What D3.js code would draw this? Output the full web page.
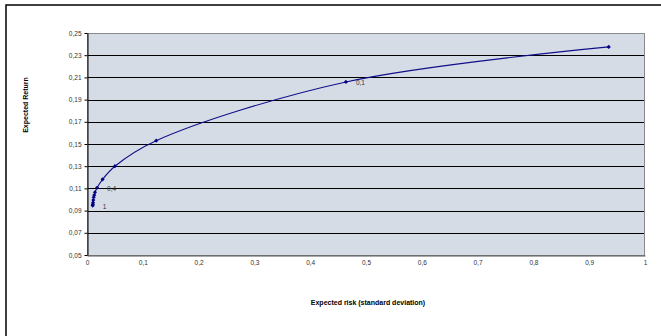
<!DOCTYPE html>
<html><head><meta charset="utf-8">
<script src="https://cdn.jsdelivr.net/npm/d3@7"></script>
<style>body{margin:0;background:#fff}svg{display:block}text{font-family:"Liberation Sans",Arial,sans-serif}</style>
</head><body><svg id="c" width="661" height="336"></svg>
<script>
const riskValues = [0.0102, 0.0104, 0.0108, 0.0113, 0.012, 0.013, 0.0143, 0.018, 0.028, 0.050, 0.124, 0.464, 0.935];
const returnValues = [0.0945, 0.0955, 0.097, 0.0995, 0.102, 0.104, 0.1065, 0.1106, 0.1182, 0.130, 0.153, 0.2059, 0.2375];
const pointLabels = ["1", "", "", "", "", "", "", "0,4", "", "", "", "0,1", ""];
const yTicks = [0.05, 0.07, 0.09, 0.11, 0.13, 0.15, 0.17, 0.19, 0.21, 0.23, 0.25];
const xTicks = [0, 0.1, 0.2, 0.3, 0.4, 0.5, 0.6, 0.7, 0.8, 0.9, 1];
const yTitle = "Expected Return";
const xTitle = "Expected risk (standard deviation)";

const fmt = v => String(+v.toFixed(2)).replace(".", ",");
const svg = d3.select("#c");
const L = 87, R = 645, T = 33, B = 255;
const x = d3.scaleLinear().domain([0, 1]).range([L, R]);
const y = d3.scaleLinear().domain([0.05, 0.25]).range([B, T]);

svg.append("rect").attr("x", 6).attr("y", 5).attr("width", 700).attr("height", 400)
  .attr("fill", "#fff").attr("stroke", "#000").attr("stroke-width", 1.5);

svg.append("rect").attr("x", L).attr("y", T).attr("width", R - L).attr("height", B - T)
  .attr("fill", "#d6dce6");

svg.append("g").selectAll("line").data(yTicks.slice(1, -1)).join("line")
  .attr("x1", L).attr("x2", R)
  .attr("y1", d => Math.round(y(d)) + 0.5).attr("y2", d => Math.round(y(d)) + 0.5)
  .attr("stroke", "#000").attr("stroke-width", 1);

svg.append("rect").attr("x", L + 0.5).attr("y", T + 0.5).attr("width", R - L - 1).attr("height", B - T)
  .attr("fill", "none").attr("stroke", "#8a8a8a").attr("stroke-width", 1);

const yAxis = svg.append("g").attr("transform", `translate(${L + 0.5},0)`)
  .call(d3.axisLeft(y).tickValues(yTicks).tickFormat(fmt).tickSizeInner(3).tickSizeOuter(0).tickPadding(3));
yAxis.select(".domain").attr("stroke", "#000");
yAxis.selectAll("line").attr("stroke", "#000");
yAxis.selectAll("text").attr("font-size", 6.5).attr("fill", "#333");

const xAxis = svg.append("g").attr("transform", `translate(0,${B + 0.5})`)
  .call(d3.axisBottom(x).tickValues(xTicks).tickFormat(fmt).tickSize(0).tickPadding(5));
xAxis.select(".domain").attr("stroke", "#555");
xAxis.selectAll("text").attr("font-size", 6.5).attr("fill", "#333");

const pts = riskValues.map((r, i) => ({ r, v: returnValues[i], lab: pointLabels[i] }));
svg.append("path").datum(pts)
  .attr("d", d3.line().x(d => x(d.r)).y(d => y(d.v)).curve(d3.curveCatmullRom.alpha(0.5)))
  .attr("fill", "none").attr("stroke", "#10108a").attr("stroke-width", 1.1);

svg.append("g").selectAll("path").data(pts).join("path")
  .attr("transform", d => `translate(${x(d.r)},${y(d.v)})`)
  .attr("d", d3.symbol(d3.symbolDiamond2, 11))
  .attr("fill", "#000080");

svg.append("g").selectAll("text").data(pts.filter(d => d.lab)).join("text")
  .attr("x", d => x(d.r) + 10).attr("y", d => y(d.v) + 3)
  .attr("font-size", 6.5).attr("fill", "#333").text(d => d.lab);

svg.append("text").attr("transform", `translate(28,105) rotate(-90)`)
  .attr("text-anchor", "middle").attr("font-size", 7).attr("font-weight", "bold").text(yTitle);
svg.append("text").attr("x", (L + R) / 2 + 2).attr("y", 305)
  .attr("text-anchor", "middle").attr("font-size", 7).attr("font-weight", "bold").text(xTitle);
</script></body></html>
